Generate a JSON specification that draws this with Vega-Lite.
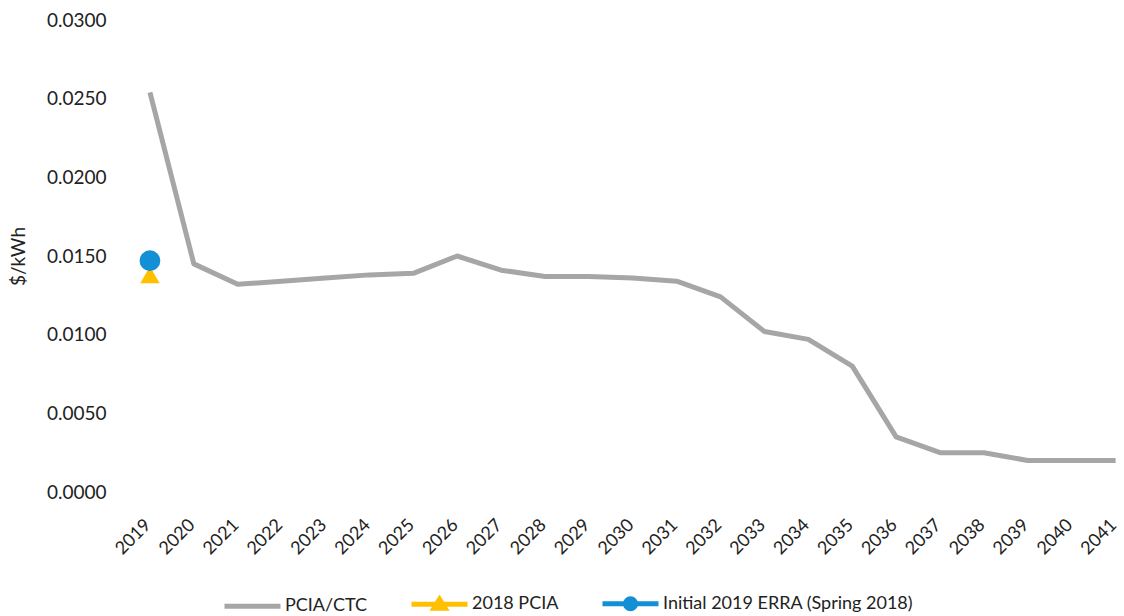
{
  "$schema": "https://vega.github.io/schema/vega-lite/v6.json",
  "autosize": {"type": "none"},
  "width": 992,
  "height": 472,
  "padding": {"left": 128, "top": 20, "right": 4, "bottom": 124},
  "background": "white",
  "config": {
    "view": {"stroke": null},
    "font": "Lato",
    "axis": {"labelColor": "#222222", "titleColor": "#222222", "labelFont": "Lato", "titleFont": "Lato"}
  },
  "data": {
    "values": [
      {"year": 2019, "value": 0.0254, "series": "PCIA/CTC"},
      {"year": 2020, "value": 0.0145, "series": "PCIA/CTC"},
      {"year": 2021, "value": 0.0132, "series": "PCIA/CTC"},
      {"year": 2022, "value": 0.0134, "series": "PCIA/CTC"},
      {"year": 2023, "value": 0.0136, "series": "PCIA/CTC"},
      {"year": 2024, "value": 0.0138, "series": "PCIA/CTC"},
      {"year": 2025, "value": 0.0139, "series": "PCIA/CTC"},
      {"year": 2026, "value": 0.0150, "series": "PCIA/CTC"},
      {"year": 2027, "value": 0.0141, "series": "PCIA/CTC"},
      {"year": 2028, "value": 0.0137, "series": "PCIA/CTC"},
      {"year": 2029, "value": 0.0137, "series": "PCIA/CTC"},
      {"year": 2030, "value": 0.0136, "series": "PCIA/CTC"},
      {"year": 2031, "value": 0.0134, "series": "PCIA/CTC"},
      {"year": 2032, "value": 0.0124, "series": "PCIA/CTC"},
      {"year": 2033, "value": 0.0102, "series": "PCIA/CTC"},
      {"year": 2034, "value": 0.0097, "series": "PCIA/CTC"},
      {"year": 2035, "value": 0.0080, "series": "PCIA/CTC"},
      {"year": 2036, "value": 0.0035, "series": "PCIA/CTC"},
      {"year": 2037, "value": 0.0025, "series": "PCIA/CTC"},
      {"year": 2038, "value": 0.0025, "series": "PCIA/CTC"},
      {"year": 2039, "value": 0.0020, "series": "PCIA/CTC"},
      {"year": 2040, "value": 0.0020, "series": "PCIA/CTC"},
      {"year": 2041, "value": 0.0020, "series": "PCIA/CTC"},
      {"year": 2019, "value": 0.0138, "series": "2018 PCIA"},
      {"year": 2019, "value": 0.0147, "series": "Initial 2019 ERRA (Spring 2018)"}
    ]
  },
  "encoding": {
    "x": {
      "field": "year",
      "type": "quantitative",
      "scale": {"domain": [2018.5, 2041.1], "nice": false, "zero": false},
      "axis": {
        "title": null,
        "values": [2019, 2020, 2021, 2022, 2023, 2024, 2025, 2026, 2027, 2028, 2029, 2030, 2031, 2032, 2033, 2034, 2035, 2036, 2037, 2038, 2039, 2040, 2041],
        "format": "d",
        "labelAngle": -45,
        "labelAlign": "right",
        "labelBaseline": "middle",
        "labelFontSize": 18,
        "labelPadding": 30,
        "labelOffset": -2,
        "labelOverlap": false,
        "labelBound": false,
        "labelFlush": false,
        "grid": false,
        "ticks": false,
        "domain": false
      }
    },
    "y": {
      "field": "value",
      "type": "quantitative",
      "scale": {"domain": [0, 0.03], "nice": false},
      "axis": {
        "title": "$/kWh",
        "titleFontSize": 19,
        "titleFontWeight": "normal",
        "titlePadding": 18,
        "values": [0, 0.005, 0.01, 0.015, 0.02, 0.025, 0.03],
        "format": ".4f",
        "labelFontSize": 19,
        "labelPadding": 22,
        "grid": false,
        "ticks": false,
        "domain": false
      }
    },
    "color": {
      "field": "series",
      "type": "nominal",
      "scale": {
        "domain": ["PCIA/CTC", "2018 PCIA", "Initial 2019 ERRA (Spring 2018)"],
        "range": ["#A6A6A6", "#FFC000", "#138FD6"]
      },
      "legend": {
        "title": null,
        "orient": "none",
        "direction": "horizontal",
        "legendX": 94,
        "legendY": 553,
        "labelFont": "Lato",
        "labelFontSize": 18,
        "labelColor": "#222222",
        "labelLimit": 400,
        "labelOffset": 2,
        "columnPadding": 33,
        "symbolSize": 3136,
        "symbolStrokeWidth": 5,
        "symbolOpacity": 1,
        "encode": {
          "symbols": {
            "update": {
              "shape": {"signal": "datum.value === 'PCIA/CTC' ? 'M-1,0H1' : datum.value === '2018 PCIA' ? 'M-1,0H1M-0.2,0.14L0,-0.18L0.2,0.14Z' : 'M-1,0H1M-0.18,0A0.18,0.18,0,1,0,0.18,0A0.18,0.18,0,1,0,-0.18,0Z'"},
              "fill": {"signal": "scale('color', datum.value)"},
              "stroke": {"signal": "scale('color', datum.value)"},
              "strokeWidth": {"value": 5}
            }
          }
        }
      }
    }
  },
  "layer": [
    {
      "transform": [{"filter": "datum.series === 'PCIA/CTC'"}],
      "mark": {"type": "line", "strokeWidth": 5, "strokeJoin": "round", "strokeCap": "butt"}
    },
    {
      "transform": [{"filter": "datum.series === '2018 PCIA'"}],
      "mark": {"type": "point", "shape": "triangle-up", "filled": true, "opacity": 1, "size": 380}
    },
    {
      "transform": [{"filter": "datum.series === 'Initial 2019 ERRA (Spring 2018)'"}],
      "mark": {"type": "point", "shape": "circle", "filled": true, "opacity": 1, "size": 430}
    }
  ]
}
